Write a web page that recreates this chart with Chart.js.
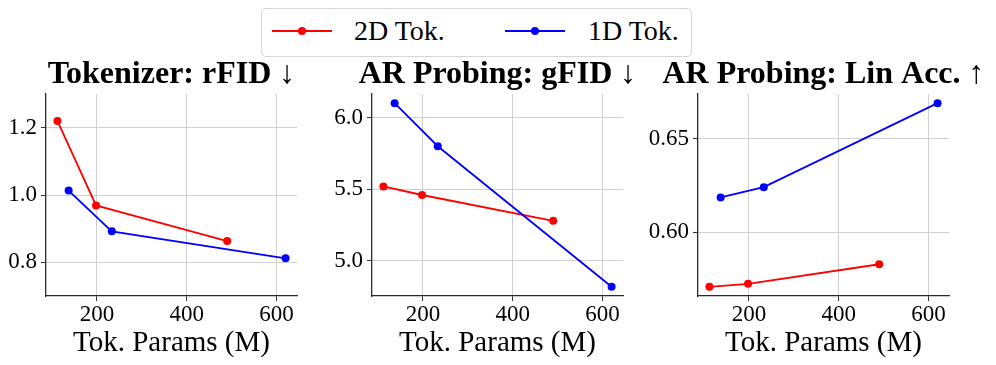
<!DOCTYPE html>
<html>
<head>
<meta charset="utf-8">
<script src="https://cdn.jsdelivr.net/npm/chart.js@4.4.1/dist/chart.umd.min.js"></script>
<style>
  html, body { margin: 0; padding: 0; background: #fff; }
  body { width: 996px; height: 365px; position: relative; overflow: hidden; font-family: "Liberation Serif", "Times New Roman", serif; }
  canvas { position: absolute; }
  #legend { position: absolute; left: 261px; top: 8px; width: 429px; height: 47px; border: 1px solid #d6d6d6; border-radius: 5px; background: #fff; }
  .lline { position: absolute; height: 2px; top: 21px; width: 60px; }
  .ldot { position: absolute; width: 8px; height: 8px; border-radius: 50%; top: 18px; }
  .ltext { position: absolute; top: 5px; font-size: 28px; line-height: 34px; color: #000; white-space: nowrap; }
</style>
</head>
<body>
<div id="legend"></div>
<canvas id="c1" width="371" height="315"></canvas>
<canvas id="c2" width="371" height="315"></canvas>
<canvas id="c3" width="371" height="315"></canvas>
<script>
// ---- data ----
const seriesNames = ["2D Tok.", "1D Tok."];
const seriesColors = ["#ff0000", "#0000ff"];
const paramsX2D = [112, 198, 490];
const paramsX1D = [137, 233, 620];
const rfid2D = [1.22, 0.969, 0.863];
const rfid1D = [1.013, 0.892, 0.812];
const gfid2D = [5.52, 5.46, 5.28];
const gfid1D = [6.10, 5.80, 4.82];
const linacc2D = [0.5708, 0.5724, 0.5829];
const linacc1D = [0.6187, 0.6242, 0.6692];
const xTicks = [200, 400, 600];
const rfidTicks = [0.8, 1.0, 1.2];
const gfidTicks = [5.0, 5.5, 6.0];
const linaccTicks = [0.60, 0.65];
const titles = ["Tokenizer: rFID \u2193", "AR Probing: gFID \u2193", "AR Probing: Lin Acc. \u2191"];
const xTitle = "Tok. Params (M)";

// ---- layout ----
const FONT = '"Liberation Serif", "Times New Roman", serif';
const W = 60;             // side box width (room for y tick labels, mirrored on the right)
const plotW = 251;
const plotLefts = [46, 371.7, 697.7];
const canvasTop = 50;
const xAxisH = 69;

function pts(xs, ys) { return xs.map((x, i) => ({ x: x, y: ys[i] })); }

function makeChart(id, idx, d2, d1, yTicks, yMin, yMax, decimals) {
  const cv = document.getElementById(id);
  cv.style.left = (plotLefts[idx] - W) + 'px';
  cv.style.top = canvasTop + 'px';
  const ds = [
    { label: seriesNames[1], data: pts(paramsX1D, d1), borderColor: seriesColors[1], backgroundColor: seriesColors[1] },
    { label: seriesNames[0], data: pts(paramsX2D, d2), borderColor: seriesColors[0], backgroundColor: seriesColors[0] }
  ].map(d => Object.assign(d, { borderWidth: 1.8, pointRadius: 4, pointBorderWidth: 0, pointBackgroundColor: d.borderColor, tension: 0, clip: false, yAxisID: 'y' }));
  new Chart(cv, {
    type: 'line',
    data: { datasets: ds },
    options: {
      responsive: false, animation: false, devicePixelRatio: 1,
      layout: { padding: { left: 0, right: 0, top: 5.6, bottom: 0 } },
      plugins: {
        legend: { display: false }, tooltip: { enabled: false },
        title: { display: true, text: titles[idx], color: '#000', font: { family: FONT, size: 32, weight: 'bold', lineHeight: 1.2 }, padding: { top: 0, bottom: 0 } }
      },
      scales: {
        x: {
          type: 'linear', min: 86.6, max: 645.4,
          afterBuildTicks: s => { s.ticks = xTicks.map(v => ({ value: v })); },
          afterFit: s => { s.height = xAxisH; },
          ticks: { color: '#000', font: { family: FONT, size: 23 }, padding: 0, maxRotation: 0, callback: v => String(v) },
          grid: { color: '#d0d0d0', lineWidth: 1, tickLength: 5, tickColor: '#333', drawTicks: true },
          border: { display: true, color: '#2a2a2a', width: 1.3 },
          title: { display: true, text: xTitle, color: '#000', font: { family: FONT, size: 29, lineHeight: 1.2 }, padding: { top: 0, bottom: 4 } }
        },
        y: {
          type: 'linear', position: 'left', min: yMin, max: yMax,
          afterBuildTicks: s => { s.ticks = yTicks.map(v => ({ value: v })); },
          afterFit: s => { s.width = W; },
          ticks: { color: '#000', font: { family: FONT, size: 23 }, padding: 4, callback: v => Number(v).toFixed(decimals) },
          grid: { color: '#d0d0d0', lineWidth: 1, tickLength: 5, tickColor: '#333', drawTicks: true },
          border: { display: true, color: '#2a2a2a', width: 1.3 }
        },
        yPad: {
          type: 'linear', position: 'right', min: 0, max: 1,
          afterFit: s => { s.width = W; },
          ticks: { display: false },
          grid: { display: false, drawOnChartArea: false },
          border: { display: false }
        }
      }
    }
  });
}

makeChart('c1', 0, rfid2D, rfid1D, rfidTicks, 0.7, 1.3, 1);
makeChart('c2', 1, gfid2D, gfid1D, gfidTicks, 4.756, 6.164, 1);
makeChart('c3', 2, linacc2D, linacc1D, linaccTicks, 0.5659, 0.6741, 2);

// ---- legend ----
const leg = document.getElementById('legend');
const legPos = [{ line: 10, text: 92 }, { line: 243, text: 326 }];
seriesNames.forEach((name, i) => {
  const l = document.createElement('div'); l.className = 'lline';
  l.style.left = legPos[i].line + 'px'; l.style.background = seriesColors[i]; leg.appendChild(l);
  const d = document.createElement('div'); d.className = 'ldot';
  d.style.left = (legPos[i].line + 26) + 'px'; d.style.background = seriesColors[i]; leg.appendChild(d);
  const t = document.createElement('div'); t.className = 'ltext';
  t.style.left = legPos[i].text + 'px'; t.textContent = name; leg.appendChild(t);
});
</script>
</body>
</html>
